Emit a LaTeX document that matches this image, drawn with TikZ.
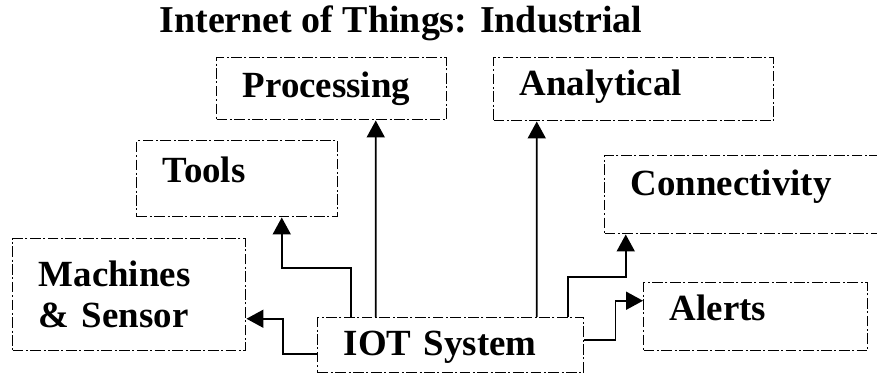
\documentclass[tikz,border=0pt]{standalone}
\usepackage{fontspec}
\setmainfont{Liberation Serif}
\usepackage{tikz}
\usetikzlibrary{arrows.meta}

\begin{document}
\begin{tikzpicture}[scale=1,
  box/.style={draw, line width=0.85pt, dash pattern=on 6pt off 1.5pt on 1.1pt off 1.5pt,
    anchor=north west, inner xsep=0.52cm, inner ysep=0pt, align=left,
    font=\fontsize{21}{23.2}\selectfont\bfseries},
  link/.style={line width=1.1pt, -{Triangle[length=0.34cm, width=0.36cm]}}]
\useasboundingbox (0,0) rectangle (17.54,7.48);

\node [anchor=base, font=\fontsize{21.6}{25}\selectfont\bfseries] (title) at (8.02,6.82) {Internet of Things: Industrial};

\node [box, text width=3.56cm, minimum height=1.24cm, text height=15pt, text depth=4.8pt] (proc) at (4.32,6.34) {Processing};
\node [box, text width=4.56cm, minimum height=1.26cm, text height=15pt, text depth=7.6pt] (anal) at (9.86,6.34) {Analytical};
\node [box, text width=2.98cm, minimum height=1.52cm, text height=15pt, text depth=10.4pt] (tools) at (2.72,4.68) {Tools};
\node [box, text width=4.66cm, minimum height=1.56cm, text height=15pt, text depth=13.9pt] (conn) at (12.08,4.38) {Connectivity};
\node [box, text width=3.62cm, minimum height=2.24cm] (mach) at (0.24,2.72) {Machines\\ \& Sensor};
\node [box, text width=3.44cm, minimum height=1.36cm, text height=15pt, text depth=10.4pt] (alerts) at (12.86,1.84) {Alerts};
\node [box, text width=4.28cm, minimum height=1.10cm, text height=15pt, text depth=3.7pt] (iot) at (6.34,1.14) {IOT System};

\draw [link] ([yshift=-0.17cm]iot.west) -- ++(-0.68,0) |- ([yshift=-0.48cm]mach.east);
\draw [link] ([xshift=-2cm]iot.north) -- ++(0,0.98) -| ([xshift=0.89cm]tools.south);
\draw [link] ([xshift=-1.5cm]iot.north) -- ([xshift=0.88cm]proc.south);
\draw [link] ([xshift=1.72cm]iot.north) -- ([xshift=-1.94cm]anal.south);
\draw [link] ([xshift=2.34cm]iot.north) -- ++(0,0.8) -| ([xshift=-2.43cm]conn.south);
\draw [link] ([yshift=0.11cm]iot.east) -- ++(0.62,0) |- ([yshift=0.32cm]alerts.west);
\end{tikzpicture}
\end{document}
